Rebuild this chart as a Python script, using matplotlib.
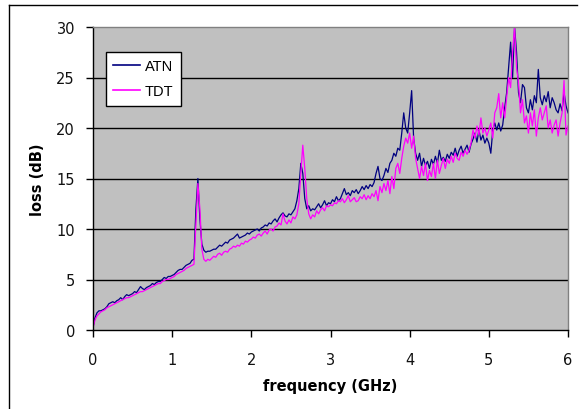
import numpy as np
import matplotlib
matplotlib.use("Agg")
import matplotlib.pyplot as plt
from matplotlib.lines import Line2D

plt.rcParams['font.family'] = ['DejaVu Sans']

freq_step = 0.025
freq = [round(i * freq_step, 3) for i in range(241)]

atn = [
    0.3, 1.2, 1.7, 1.9, 1.9, 2.0, 2.1, 2.3, 2.6, 2.7,
    2.8, 2.7, 2.9, 3.0, 3.2, 3.0, 3.3, 3.5, 3.4, 3.5,
    3.6, 3.8, 3.7, 4.0, 4.3, 4.1, 4.0, 4.2, 4.3, 4.4,
    4.6, 4.5, 4.7, 4.8, 4.8, 5.0, 5.2, 5.1, 5.3, 5.3,
    5.4, 5.5, 5.7, 5.9, 6.0, 6.0, 6.2, 6.4, 6.5, 6.6,
    6.9, 7.0, 12.0, 15.0, 11.0, 8.5, 7.9, 7.7, 7.8, 7.8,
    7.9, 8.0, 8.0, 8.2, 8.4, 8.3, 8.5, 8.7, 8.6, 8.9,
    9.0, 9.1, 9.3, 9.5, 9.1, 9.2, 9.3, 9.4, 9.6, 9.5,
    9.7, 9.8, 9.9, 10.0, 9.8, 10.1, 10.2, 10.4, 10.3, 10.6,
    10.5, 10.8, 11.0, 10.7, 11.1, 11.4, 11.6, 11.3, 11.2, 11.5,
    11.4, 11.7, 12.0, 12.8, 14.0, 16.5, 15.5, 13.0, 12.0, 12.3,
    11.8, 12.0, 11.9, 12.2, 12.5, 12.1, 12.4, 12.8, 12.3, 12.6,
    12.5, 12.9, 12.7, 13.2, 12.8, 13.0, 13.5, 14.0, 13.4, 13.6,
    13.3, 13.8, 13.6, 13.9, 13.5, 13.8, 14.2, 13.9, 14.3, 14.0,
    14.4, 14.2, 14.6, 15.5, 16.2, 15.0, 14.8, 15.3, 16.0, 15.6,
    16.5, 16.8, 17.5, 17.2, 18.0, 17.8, 19.5, 21.5, 20.0, 19.5,
    21.5, 23.7, 19.0, 17.5, 16.8, 17.5, 16.2, 17.0, 16.3, 16.7,
    16.0, 16.9, 16.4, 17.2, 16.5, 17.8, 16.8, 17.1, 16.7, 17.4,
    17.0, 17.6, 17.3, 18.0, 17.2, 17.8, 18.2, 17.5, 17.9, 18.3,
    17.6, 18.4, 18.9, 19.5, 18.6, 19.8, 18.8, 19.3, 18.5, 19.0,
    18.5, 17.5, 19.8, 20.5, 19.8, 20.5, 19.7, 20.3, 22.0, 23.5,
    26.0, 28.5, 25.0, 30.0, 27.5, 23.5, 22.5, 24.3, 24.0, 22.0,
    21.5, 22.8, 21.8, 23.2, 22.5, 25.8, 23.0, 22.3, 23.2, 22.6,
    23.6, 22.0, 23.0, 22.5, 21.8, 21.5, 22.4, 21.7, 23.5, 22.2,
    21.5,
]

tdt = [
    0.2, 1.0, 1.4, 1.6, 1.8, 1.9, 2.0, 2.2, 2.3, 2.4,
    2.5, 2.6, 2.7, 2.8, 2.9, 3.0, 3.1, 3.2, 3.2, 3.3,
    3.4, 3.5, 3.6, 3.7, 3.8, 3.8, 3.9, 4.0, 4.1, 4.2,
    4.3, 4.4, 4.5, 4.6, 4.6, 4.8, 4.9, 5.0, 5.0, 5.1,
    5.2, 5.3, 5.5, 5.6, 5.7, 5.8, 5.9, 6.1, 6.2, 6.3,
    6.4, 6.5, 10.5, 14.5, 12.0, 8.0, 7.0, 6.8, 7.0, 6.9,
    7.1, 7.3, 7.2, 7.5, 7.6, 7.4, 7.7, 7.8, 7.7, 8.0,
    8.1, 8.3, 8.2, 8.4, 8.3, 8.6, 8.5, 8.8, 8.7, 8.9,
    9.0, 9.2, 9.1, 9.4, 9.5, 9.3, 9.6, 9.8, 9.5, 9.9,
    10.0, 9.8, 10.2, 10.3, 10.6, 10.4, 11.5, 10.8, 10.5, 10.9,
    10.6, 11.2, 11.0, 11.4, 12.5, 15.5, 18.3, 16.0, 13.0, 11.5,
    11.0, 11.4, 11.2, 11.8, 11.5, 11.9, 12.1, 11.8, 12.3, 12.2,
    12.4, 12.3, 12.6, 12.5, 12.8, 12.7, 13.0, 12.6, 12.9, 13.3,
    12.7, 12.9, 13.1, 12.7, 12.8, 13.2, 13.0, 13.4, 12.9, 13.3,
    13.0, 13.5, 13.2, 13.8, 12.8, 14.2, 13.6, 14.5, 13.8, 14.8,
    13.5, 15.2, 14.0, 16.0, 16.5, 15.5, 17.0, 18.2, 19.0, 18.5,
    19.5, 18.0, 19.2, 17.0, 16.0, 15.0, 16.2, 15.3, 16.5, 14.8,
    15.8, 15.2, 16.5, 15.0, 16.8, 15.5, 16.3, 17.0, 16.0, 16.9,
    16.5, 17.2, 16.6, 17.5, 17.0, 16.8, 17.6, 17.2, 17.8, 17.4,
    17.8, 18.5, 19.8, 19.0, 20.2, 19.3, 21.0, 19.5, 20.0, 19.2,
    19.8, 20.5, 19.0, 21.5, 22.0, 23.4, 21.0, 22.5, 21.0, 23.0,
    25.0, 24.0, 27.5, 30.0, 26.0, 24.5, 21.5, 22.8, 20.5, 21.2,
    19.5, 21.5, 20.2, 21.8, 19.2, 21.0, 22.0, 20.8, 21.5, 22.2,
    20.0, 20.8, 19.5, 20.3, 20.8, 19.2, 20.5, 21.5, 24.7, 19.3,
    20.2,
]

series_names = ["ATN", "TDT"]
series_colors = ["#000080", "#ff00ff"]
x_ticks = [0, 1, 2, 3, 4, 5, 6]
y_ticks = [0, 5, 10, 15, 20, 25, 30]

W, H = 584, 410
fig = plt.figure(figsize=(W / 100, H / 100), dpi=100)
fig.patch.set_facecolor("white")

ax = fig.add_axes([93 / W, 1 - 331 / H, (568 - 93) / W, (331 - 28) / H])
ax.set_facecolor("#c0c0c0")

for yv in y_ticks[1:-1]:
    ax.axhline(yv, color="black", lw=1.0, zorder=1)

ax.plot(freq, atn, color=series_colors[0], lw=0.9, label=series_names[0], zorder=3)
ax.plot(freq, tdt, color=series_colors[1], lw=0.9, label=series_names[1], zorder=4)

ax.set_xlim(0, 6)
ax.set_ylim(0, 30)
ax.set_xticks(x_ticks)
ax.set_yticks(y_ticks)
ax.tick_params(axis="x", direction="out", length=5, width=1, pad=11, labelsize=10.5, colors="black")
ax.tick_params(axis="y", direction="out", length=5, width=1, pad=8, labelsize=10.5, colors="black")
for t in ax.get_xticklabels() + ax.get_yticklabels():
    t.set_color("#111111")

ax.spines["left"].set_color("black")
ax.spines["bottom"].set_color("black")
ax.spines["top"].set_color("#808080")
ax.spines["right"].set_color("#808080")
for s in ax.spines.values():
    s.set_linewidth(1.0)
    s.set_zorder(5)

ax.set_xlabel("frequency (GHz)", fontsize=10.5, fontweight="bold", labelpad=8)
ax.set_ylabel("loss (dB)", fontsize=10.5, fontweight="bold", labelpad=8)

leg = ax.legend(loc="upper left", bbox_to_anchor=(106 / W, 1 - 53 / H),
                bbox_transform=fig.transFigure, frameon=True,
                prop={"family": "Liberation Sans", "size": 10.5},
                fancybox=False, shadow=False, framealpha=1, edgecolor="black",
                handlelength=1.8, handletextpad=0.35, labelspacing=0.75,
                borderpad=0.5, borderaxespad=0)
leg.get_frame().set_linewidth(1.0)
for line in leg.get_lines():
    line.set_linewidth(1.2)

fig.add_artist(Line2D([9 / W, 577 / W], [1 - 6 / H, 1 - 6 / H], color="black", lw=1.0,
                      transform=fig.transFigure))
fig.add_artist(Line2D([9 / W, 9 / W], [1 - 6 / H, 0], color="black", lw=1.0,
                      transform=fig.transFigure))

fig.savefig("out.png", dpi=100)
